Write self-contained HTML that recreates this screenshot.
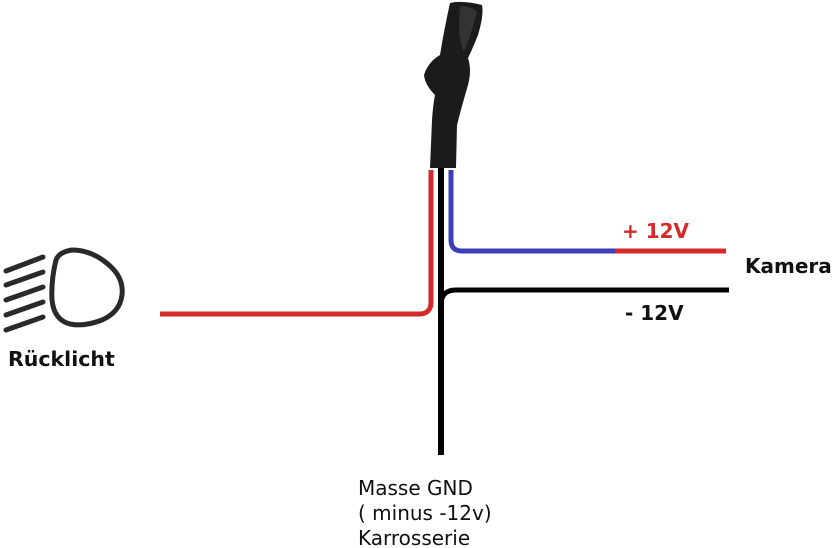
<!DOCTYPE html>
<html><head><style>body{margin:0;background:#fff}svg{display:block}</style></head><body>
<svg width="837" height="548" xmlns="http://www.w3.org/2000/svg" font-family="'DejaVu Sans','Liberation Sans',sans-serif">
<path d="M450,3 Q462,0 482,5 Q484,15 478,35 Q472,50 468,58 Q472,70 468,85 Q462,105 457,125 L456,168 L430,168 L432,120 Q433,105 435,95 Q425,85 424,75 Q428,62 440,55 Q444,30 450,3 Z" fill="#1b1b1b"/>
<path d="M460,6 Q472,6 477,12 Q471,35 464,52 Q457,40 460,6Z" fill="#333"/>
<path d="M431,170 V302 Q431,314 419,314 H160" fill="none" stroke="#d42a2a" stroke-width="5"/>
<path d="M451,170 V240 Q451,251 462,251 H615" fill="none" stroke="#3b3fb8" stroke-width="5"/>
<path d="M615,251 H726" fill="none" stroke="#d42a2a" stroke-width="5"/>
<path d="M441,168 V455" fill="none" stroke="#000" stroke-width="6"/>
<path d="M441,305 Q441,290 456,290 H729" fill="none" stroke="#000" stroke-width="5"/>
<g stroke="#2a2a2a" stroke-width="5" stroke-linecap="round" fill="none">
<path d="M56,260 Q51,280 52,300 Q54,320 70,324 Q84,327 102,320 Q120,312 122,295 Q124,278 109,265 Q92,250 72,250 Q59,252 56,260Z"/>
<path d="M6,271 L43,257"/><path d="M6,285 L43,272"/><path d="M6,300 L43,287"/><path d="M6,315 L43,302"/><path d="M6,330 L43,317"/>
</g>
<text x="8" y="366" font-size="20.5" font-weight="bold" fill="#111">Rücklicht</text>
<text x="622" y="238" font-size="20" font-weight="bold" fill="#d42a2a">+ 12V</text>
<text x="745" y="273" font-size="20" font-weight="bold" fill="#111">Kamera</text>
<text x="625" y="320" font-size="20" font-weight="bold" fill="#111">- 12V</text>
<text font-size="20" fill="#111"><tspan x="358" y="495">Masse GND</tspan><tspan x="358" y="520">( minus -12v)</tspan><tspan x="358" y="545">Karrosserie</tspan></text>
</svg>
</body></html>
